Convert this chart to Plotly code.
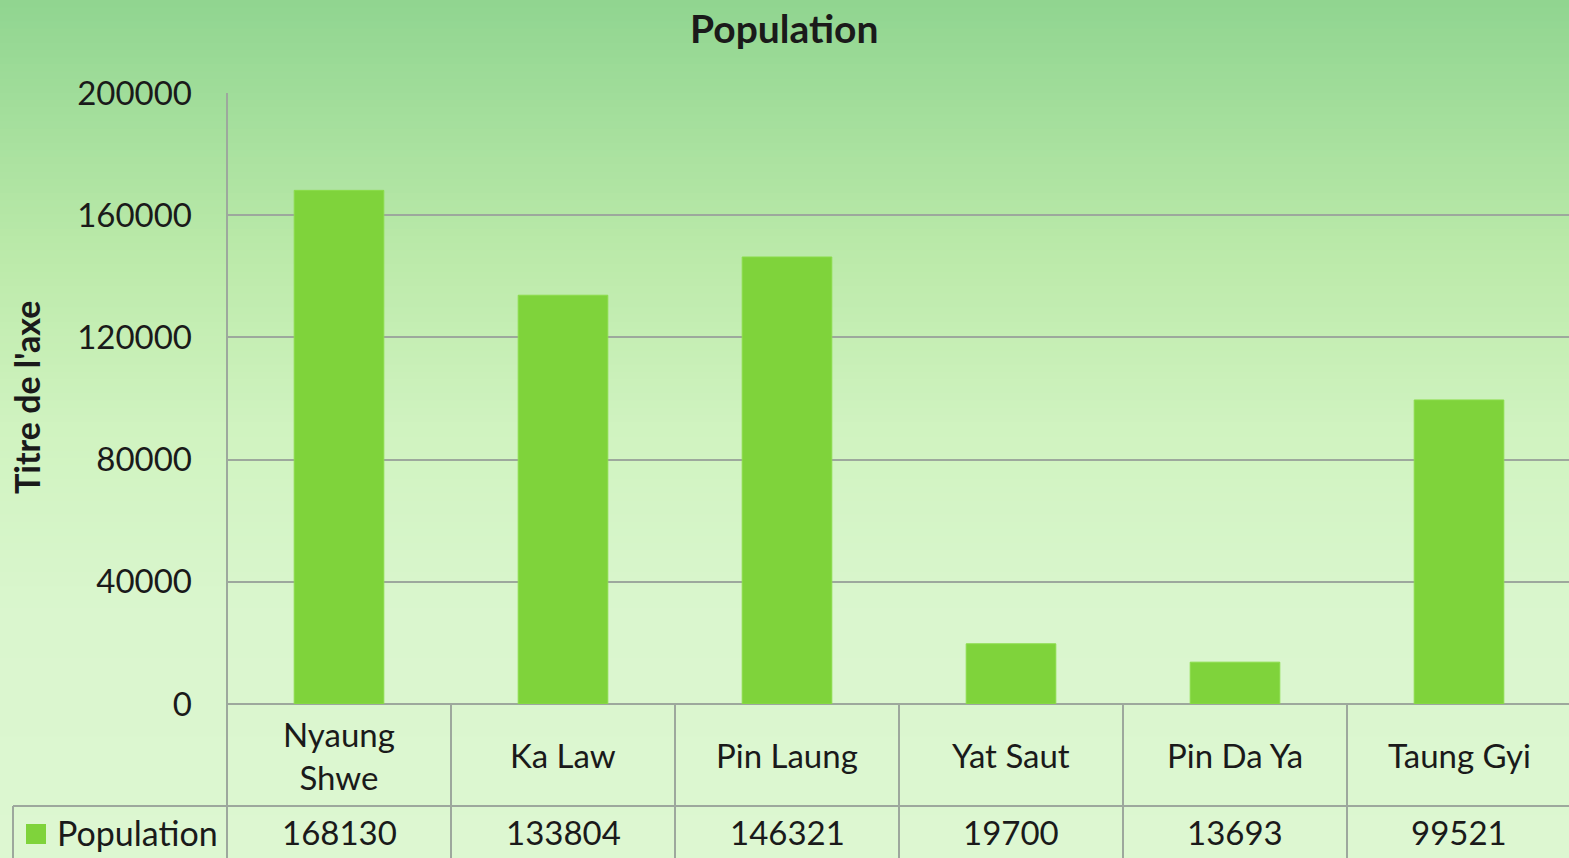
import plotly.graph_objects as go

categories = ["Nyaung Shwe", "Ka Law", "Pin Laung", "Yat Saut", "Pin Da Ya", "Taung Gyi"]
category_labels = ["Nyaung<br>Shwe", "Ka Law", "Pin Laung", "Yat Saut", "Pin Da Ya", "Taung Gyi"]
population = [168130, 133804, 146321, 19700, 13693, 99521]
y_ticks = [0, 40000, 80000, 120000, 160000, 200000]
series_name = "Population"
chart_title = "Population"
y_title = "Titre de l'axe"

W, H = 1569, 858
FONT = "Lato"
BAR = "#7FD33B"
GRID = "#9DA89D"
TXT = "#1a1a1a"
FS = 33

def py(p):  # pixel y -> paper y
    return 1 - p / H

def px(p):
    return p / W

fig = go.Figure()
fig.add_trace(go.Bar(x=categories, y=population, name=series_name, width=0.4,
                     marker=dict(color=BAR, line=dict(color="#8BDC4A", width=1)),
                     showlegend=False))

shapes = []
# background gradient
stops = [(0.0, (144, 213, 144)), (0.3, (188, 234, 170)), (0.5, (208, 243, 192)),
         (0.72, (218, 246, 206)), (1.0, (221, 247, 209))]
N = 120
for i in range(N):
    t = (i + 0.5) / N
    for k in range(len(stops) - 1):
        if stops[k][0] <= t <= stops[k + 1][0]:
            a, ca = stops[k]
            b, cb = stops[k + 1]
            f = (t - a) / (b - a)
            c = tuple(int(round(ca[j] + (cb[j] - ca[j]) * f)) for j in range(3))
            break
    shapes.append(dict(type="rect", xref="paper", yref="paper", x0=0, x1=1,
                       y0=1 - (i + 1) / N - 0.002, y1=1 - i / N, layer="below",
                       fillcolor="rgb(%d,%d,%d)" % c, line=dict(width=0)))

# table lines
ncat = len(categories)
for i in range(ncat + 1):
    shapes.append(dict(type="line", xref="x", yref="paper", x0=i - 0.5, x1=i - 0.5,
                       y0=py(858), y1=py(704), line=dict(color=GRID, width=2)))
shapes.append(dict(type="line", xref="paper", yref="paper", x0=px(13), x1=1,
                   y0=py(806), y1=py(806), line=dict(color=GRID, width=2)))
shapes.append(dict(type="line", xref="paper", yref="paper", x0=px(13), x1=px(13),
                   y0=py(858), y1=py(806), line=dict(color=GRID, width=2)))
shapes.append(dict(type="line", xref="paper", yref="paper", x0=px(227), x1=px(227),
                   y0=py(858), y1=py(93), line=dict(color=GRID, width=2)))
# legend key
shapes.append(dict(type="rect", xref="paper", yref="paper", x0=px(26), x1=px(46),
                   y0=py(844), y1=py(824), fillcolor=BAR, line=dict(width=0)))

annotations = []
for c, lab, v in zip(categories, category_labels, population):
    annotations.append(dict(x=c, y=py(755), xref="x", yref="paper", text=lab,
                            showarrow=False, font=dict(family=FONT, size=FS, color=TXT),
                            xanchor="center", yanchor="middle"))
    annotations.append(dict(x=c, y=py(832), xref="x", yref="paper", text=str(v),
                            showarrow=False, font=dict(family=FONT, size=FS, color=TXT),
                            xanchor="center", yanchor="middle"))
annotations.append(dict(x=px(55), y=py(832), xref="paper", yref="paper", text=series_name,
                        showarrow=False, font=dict(family=FONT, size=34, color=TXT),
                        xanchor="left", yanchor="middle"))
annotations.append(dict(x=px(784), y=py(28), xref="paper", yref="paper", text="<b>" + chart_title + "</b>",
                        showarrow=False, font=dict(family=FONT, size=39, color=TXT),
                        xanchor="center", yanchor="middle"))
annotations.append(dict(x=px(27), y=py(398), xref="paper", yref="paper", text="<b>" + y_title + "</b>",
                        showarrow=False, textangle=-90, font=dict(family=FONT, size=34, color=TXT),
                        xanchor="center", yanchor="middle"))

fig.update_layout(
    width=W, height=H,
    margin=dict(l=0, r=0, t=0, b=0, pad=0, autoexpand=False),
    paper_bgcolor="#DAF6CF", plot_bgcolor="rgba(0,0,0,0)",
    shapes=shapes, annotations=annotations,
    bargap=0.6,
    xaxis=dict(domain=[px(227), 1.0], range=[-0.5, ncat - 0.5 - 2 / 224], showticklabels=False,
               showgrid=False, zeroline=False, showline=False, ticks="", automargin=False),
    yaxis=dict(domain=[py(704), py(93)], range=[0, 200000], tickvals=y_ticks,
               ticktext=[str(t) for t in y_ticks], showgrid=True, gridcolor=GRID, gridwidth=2,
               zeroline=True, zerolinecolor=GRID, zerolinewidth=2, showline=False,
               ticks="", ticklabelstandoff=34, automargin=False,
               tickfont=dict(family=FONT, size=FS, color=TXT)),
)

fig.write_html("out.html", config={"displayModeBar": False},
               post_script="document.body.style.margin='0';")
